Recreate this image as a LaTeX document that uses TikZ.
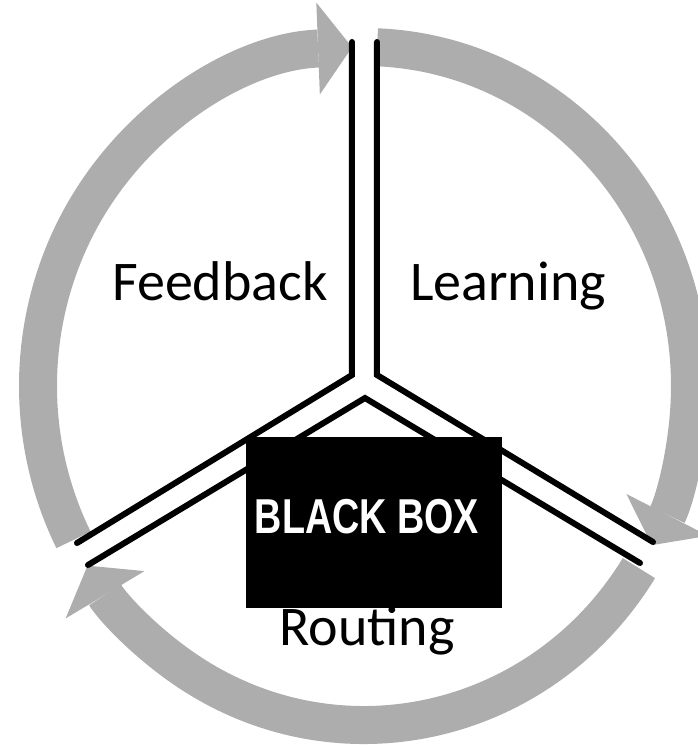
\documentclass[tikz,border=0pt]{standalone}
\usepackage{fontspec}
\setmainfont{Carlito}
\newfontfamily\boxfont{Liberation Sans}
\usetikzlibrary{arrows.meta}

\definecolor{ringgray}{HTML}{ADADAD}

\begin{document}
\begin{tikzpicture}[x=1pt,y=1pt,
  band/.style={draw=ringgray,line width=38pt},
  bandtip/.style={-{Triangle[length=34pt,width=92pt,line width'=0pt]}},
  wall/.style={line width=6pt,line cap=round},
  stage/.style={font=\fontsize{56}{60}\selectfont,anchor=base}]
  \useasboundingbox (-364,-359) rectangle (334,386);
  \clip (-364,-359) rectangle (334,386);

  % the three arcs of the cycle
  \draw[band,bandtip] (207:326pt and 339pt)
    arc[start angle=207,end angle=92.1,x radius=326pt,y radius=339pt];
  \draw[band,bandtip] (87.7:326pt and 339pt)
    arc[start angle=87.7,end angle=-28,x radius=326pt,y radius=339pt];
  \draw[band,bandtip] (-32.5:326pt and 339pt)
    arc[start angle=-32.5,end angle=-148,x radius=326pt,y radius=339pt];

  % the Y-shaped walls between the stages
  \coordinate (top l) at (-12,344);
  \coordinate (hub l) at (-12,11);
  \coordinate (end l) at (-287,-157);
  \coordinate (top r) at (13,344);
  \coordinate (hub r) at (13,11);
  \coordinate (end r) at (289,-156);
  \coordinate (low l) at (-276,-179);
  \coordinate (hub b) at (1,-12);
  \coordinate (low r) at (276,-177);
  \draw[wall] (top l) -- (hub l) -- (end l);
  \draw[wall] (top r) -- (hub r) -- (end r);
  \draw[wall] (low l) -- (hub b) -- (low r);

  \node[stage] (feedback) at (-144,86) {Feedback};
  \node[stage] (learning) at (144,86) {Learning};
  \node[stage] (routing) at (3,-259) {Routing};

  \node[fill=black,minimum width=256pt,minimum height=171pt,inner sep=0pt]
    (blackbox) at (10,-136.5) {};
  \node[text=white,inner sep=0pt,font=\boxfont\bfseries\fontsize{49}{50}\selectfont]
    (boxlabel) at (3,-131) {\scalebox{0.77}[1]{BLACK BOX}};
\end{tikzpicture}
\end{document}
